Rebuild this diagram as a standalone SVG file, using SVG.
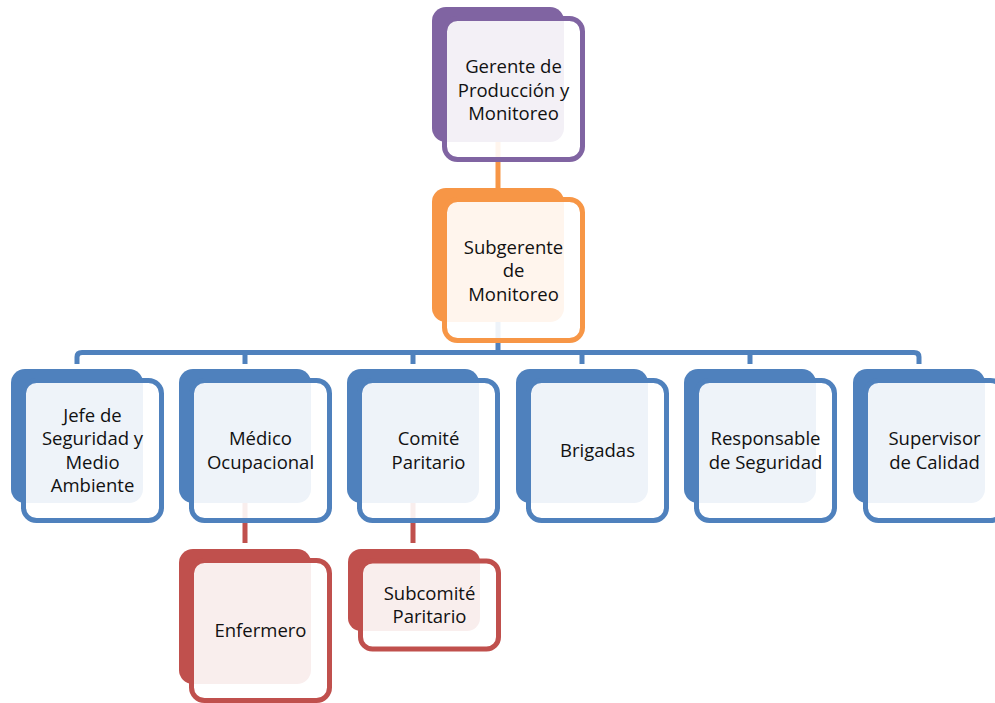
<svg xmlns="http://www.w3.org/2000/svg" width="995" height="703" viewBox="0 0 995 703">
  <style>
    .back { stroke: none; }
    .front { fill: #ffffff; fill-opacity: 0.9; stroke-width: 5; }
    .purple .back { fill: #8064A2; } .purple .front { stroke: #8064A2; }
    .orange .back { fill: #F79646; } .orange .front { stroke: #F79646; }
    .blue .back { fill: #4F81BD; } .blue .front { stroke: #4F81BD; }
    .red .back { fill: #C0504D; } .red .front { stroke: #C0504D; }
    .lbl { font-family: "Open Sans", "Noto Sans", "Liberation Sans", sans-serif; font-size: 18.5px; fill: #111111; text-anchor: middle; }
    .conn { fill: none; stroke-width: 5; }
  </style>
  <rect width="995" height="703" fill="#ffffff"/>

  <!-- connectors (drawn first so the translucent card faces soften them) -->
  <g id="connectors">
    <path class="conn" stroke="#F79646" d="M498,142 V188"/>
    <path class="conn" stroke="#4F81BD" d="M498,322 V352"/>
    <path class="conn" stroke="#4F81BD" d="M77,364 V357 Q77,352.5 82,352.5 H914 Q919,352.5 919,357 V364"/>
    <path class="conn" stroke="#4F81BD" d="M245,352 V364 M413,352 V364 M582,352 V364 M750,352 V364"/>
    <path class="conn" stroke="#C0504D" d="M245,503 V543 M413,503 V543"/>
  </g>

  <g id="gerente" class="purple">
    <rect class="back" x="432" y="7" width="132" height="135" rx="14"/>
    <rect class="front" x="444.5" y="18.5" width="138" height="141" rx="13"/>
    <text class="lbl" x="513.5" y="73">Gerente de<tspan x="513.5" dy="23.5">Producción y</tspan><tspan x="513.5" dy="23.5">Monitoreo</tspan></text>
  </g>

  <g id="subgerente" class="orange">
    <rect class="back" x="432" y="188" width="132" height="134" rx="14"/>
    <rect class="front" x="444.5" y="199.5" width="138" height="141" rx="13"/>
    <text class="lbl" x="513.5" y="253.5">Subgerente<tspan x="513.5" dy="23.5">de</tspan><tspan x="513.5" dy="23.5">Monitoreo</tspan></text>
  </g>

  <g id="jefe" class="blue">
    <rect class="back" x="11" y="369" width="132" height="134" rx="14"/>
    <rect class="front" x="23.5" y="380.5" width="138" height="140" rx="13"/>
    <text class="lbl" x="92.5" y="421.5">Jefe de<tspan x="92.5" dy="23.5">Seguridad y</tspan><tspan x="92.5" dy="23.5">Medio</tspan><tspan x="92.5" dy="23.5">Ambiente</tspan></text>
  </g>

  <g id="medico" class="blue">
    <rect class="back" x="179" y="369" width="132" height="134" rx="14"/>
    <rect class="front" x="191.5" y="380.5" width="138" height="140" rx="13"/>
    <text class="lbl" x="260.5" y="445">Médico<tspan x="260.5" dy="23.5">Ocupacional</tspan></text>
  </g>

  <g id="comite" class="blue">
    <rect class="back" x="347" y="369" width="132" height="134" rx="14"/>
    <rect class="front" x="359.5" y="380.5" width="138" height="140" rx="13"/>
    <text class="lbl" x="428.5" y="445">Comité<tspan x="428.5" dy="23.5">Paritario</tspan></text>
  </g>

  <g id="brigadas" class="blue">
    <rect class="back" x="516" y="369" width="132" height="134" rx="14"/>
    <rect class="front" x="528.5" y="380.5" width="138" height="140" rx="13"/>
    <text class="lbl" x="597.5" y="457">Brigadas</text>
  </g>

  <g id="responsable" class="blue">
    <rect class="back" x="684" y="369" width="132" height="134" rx="14"/>
    <rect class="front" x="696.5" y="380.5" width="138" height="140" rx="13"/>
    <text class="lbl" x="765.5" y="445">Responsable<tspan x="765.5" dy="23.5">de Seguridad</tspan></text>
  </g>

  <g id="supervisor" class="blue">
    <rect class="back" x="853" y="369" width="132" height="134" rx="14"/>
    <rect class="front" x="865.5" y="380.5" width="138" height="140" rx="13"/>
    <text class="lbl" x="934.5" y="445">Supervisor<tspan x="934.5" dy="23.5">de Calidad</tspan></text>
  </g>

  <g id="enfermero" class="red">
    <rect class="back" x="179" y="549" width="132" height="135" rx="14"/>
    <rect class="front" x="191.5" y="560.5" width="138" height="140" rx="13"/>
    <text class="lbl" x="260.5" y="637">Enfermero</text>
  </g>

  <g id="subcomite" class="red">
    <rect class="back" x="348" y="549" width="132" height="82" rx="13"/>
    <rect class="front" x="360.5" y="561" width="138" height="88" rx="12"/>
    <text class="lbl" x="429.5" y="599.5">Subcomité<tspan x="429.5" dy="23.5">Paritario</tspan></text>
  </g>
</svg>
